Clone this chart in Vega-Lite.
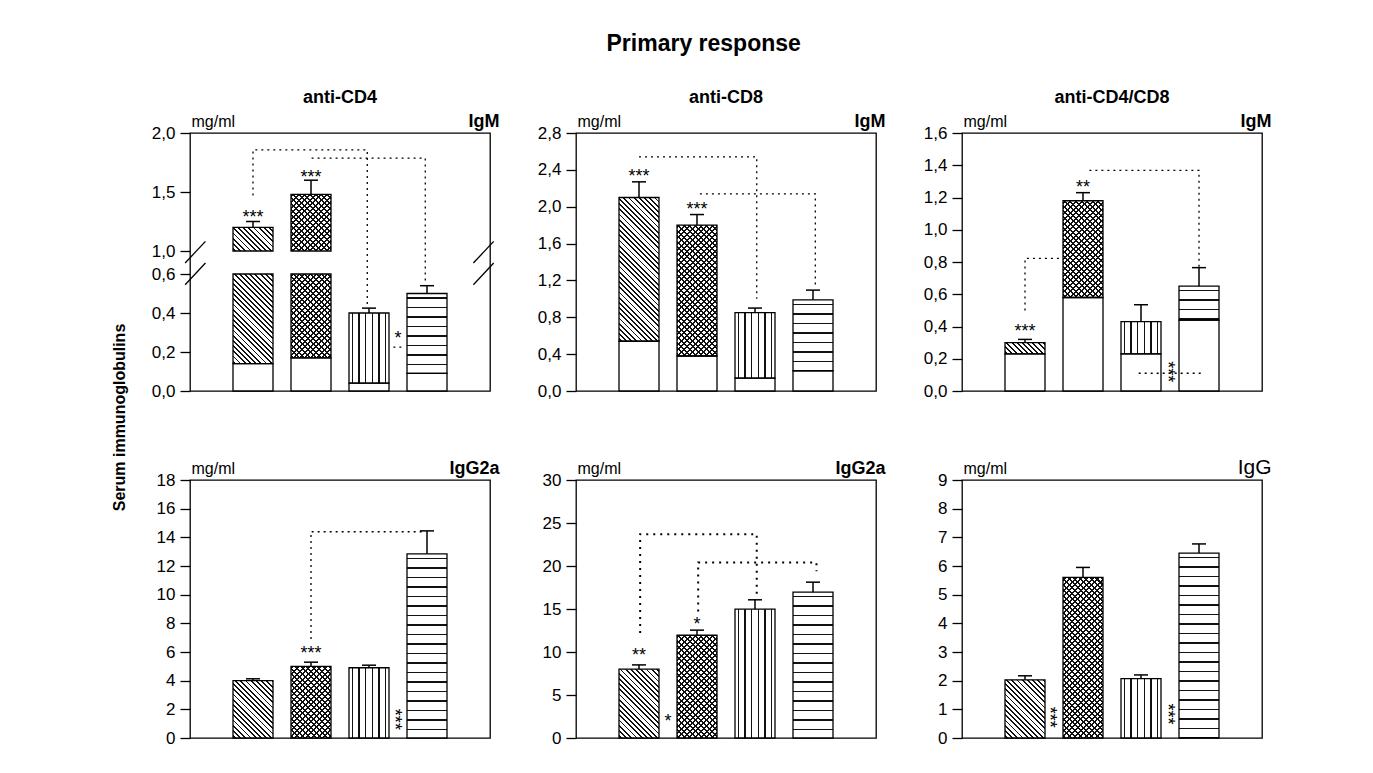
{
"$schema":"https://vega.github.io/schema/vega-lite/v6.json",
"padding":{"left":111,"top":33,"right":5,"bottom":5},
"title":{"text":"Primary response","fontSize":23,"fontWeight":"bold","anchor":"middle","offset":32,"dx":12,"color":"black"},
"params":[
{"name":"sT","value":[
{"offset":0,"color":"transparent"},
{"offset":0.008,"color":"transparent"},{"offset":0.008,"color":"#111"},{"offset":0.018,"color":"#111"},{"offset":0.018,"color":"transparent"},
{"offset":0.0358,"color":"transparent"},{"offset":0.0358,"color":"#111"},{"offset":0.0458,"color":"#111"},{"offset":0.0458,"color":"transparent"},
{"offset":0.0636,"color":"transparent"},{"offset":0.0636,"color":"#111"},{"offset":0.0736,"color":"#111"},{"offset":0.0736,"color":"transparent"},
{"offset":0.0913,"color":"transparent"},{"offset":0.0913,"color":"#111"},{"offset":0.1013,"color":"#111"},{"offset":0.1013,"color":"transparent"},
{"offset":0.1191,"color":"transparent"},{"offset":0.1191,"color":"#111"},{"offset":0.1291,"color":"#111"},{"offset":0.1291,"color":"transparent"},
{"offset":0.1469,"color":"transparent"},{"offset":0.1469,"color":"#111"},{"offset":0.1569,"color":"#111"},{"offset":0.1569,"color":"transparent"},
{"offset":0.1747,"color":"transparent"},{"offset":0.1747,"color":"#111"},{"offset":0.1847,"color":"#111"},{"offset":0.1847,"color":"transparent"},
{"offset":0.2024,"color":"transparent"},{"offset":0.2024,"color":"#111"},{"offset":0.2124,"color":"#111"},{"offset":0.2124,"color":"transparent"},
{"offset":0.2302,"color":"transparent"},{"offset":0.2302,"color":"#111"},{"offset":0.2402,"color":"#111"},{"offset":0.2402,"color":"transparent"},
{"offset":0.258,"color":"transparent"},{"offset":0.258,"color":"#111"},{"offset":0.268,"color":"#111"},{"offset":0.268,"color":"transparent"},
{"offset":0.2858,"color":"transparent"},{"offset":0.2858,"color":"#111"},{"offset":0.2958,"color":"#111"},{"offset":0.2958,"color":"transparent"},
{"offset":0.3136,"color":"transparent"},{"offset":0.3136,"color":"#111"},{"offset":0.3236,"color":"#111"},{"offset":0.3236,"color":"transparent"},
{"offset":0.3413,"color":"transparent"},{"offset":0.3413,"color":"#111"},{"offset":0.3513,"color":"#111"},{"offset":0.3513,"color":"transparent"},
{"offset":0.3691,"color":"transparent"},{"offset":0.3691,"color":"#111"},{"offset":0.3791,"color":"#111"},{"offset":0.3791,"color":"transparent"},
{"offset":0.3969,"color":"transparent"},{"offset":0.3969,"color":"#111"},{"offset":0.4069,"color":"#111"},{"offset":0.4069,"color":"transparent"},
{"offset":0.4247,"color":"transparent"},{"offset":0.4247,"color":"#111"},{"offset":0.4347,"color":"#111"},{"offset":0.4347,"color":"transparent"},
{"offset":0.4524,"color":"transparent"},{"offset":0.4524,"color":"#111"},{"offset":0.4624,"color":"#111"},{"offset":0.4624,"color":"transparent"},
{"offset":0.4802,"color":"transparent"},{"offset":0.4802,"color":"#111"},{"offset":0.4902,"color":"#111"},{"offset":0.4902,"color":"transparent"},
{"offset":0.508,"color":"transparent"},{"offset":0.508,"color":"#111"},{"offset":0.518,"color":"#111"},{"offset":0.518,"color":"transparent"},
{"offset":0.5358,"color":"transparent"},{"offset":0.5358,"color":"#111"},{"offset":0.5458,"color":"#111"},{"offset":0.5458,"color":"transparent"},
{"offset":0.5636,"color":"transparent"},{"offset":0.5636,"color":"#111"},{"offset":0.5736,"color":"#111"},{"offset":0.5736,"color":"transparent"},
{"offset":0.5913,"color":"transparent"},{"offset":0.5913,"color":"#111"},{"offset":0.6013,"color":"#111"},{"offset":0.6013,"color":"transparent"},
{"offset":0.6191,"color":"transparent"},{"offset":0.6191,"color":"#111"},{"offset":0.6291,"color":"#111"},{"offset":0.6291,"color":"transparent"},
{"offset":0.6469,"color":"transparent"},{"offset":0.6469,"color":"#111"},{"offset":0.6569,"color":"#111"},{"offset":0.6569,"color":"transparent"},
{"offset":0.6747,"color":"transparent"},{"offset":0.6747,"color":"#111"},{"offset":0.6847,"color":"#111"},{"offset":0.6847,"color":"transparent"},
{"offset":0.7024,"color":"transparent"},{"offset":0.7024,"color":"#111"},{"offset":0.7124,"color":"#111"},{"offset":0.7124,"color":"transparent"},
{"offset":0.7302,"color":"transparent"},{"offset":0.7302,"color":"#111"},{"offset":0.7402,"color":"#111"},{"offset":0.7402,"color":"transparent"},
{"offset":0.758,"color":"transparent"},{"offset":0.758,"color":"#111"},{"offset":0.768,"color":"#111"},{"offset":0.768,"color":"transparent"},
{"offset":0.7858,"color":"transparent"},{"offset":0.7858,"color":"#111"},{"offset":0.7958,"color":"#111"},{"offset":0.7958,"color":"transparent"},
{"offset":0.8136,"color":"transparent"},{"offset":0.8136,"color":"#111"},{"offset":0.8236,"color":"#111"},{"offset":0.8236,"color":"transparent"},
{"offset":0.8413,"color":"transparent"},{"offset":0.8413,"color":"#111"},{"offset":0.8513,"color":"#111"},{"offset":0.8513,"color":"transparent"},
{"offset":0.8691,"color":"transparent"},{"offset":0.8691,"color":"#111"},{"offset":0.8791,"color":"#111"},{"offset":0.8791,"color":"transparent"},
{"offset":0.8969,"color":"transparent"},{"offset":0.8969,"color":"#111"},{"offset":0.9069,"color":"#111"},{"offset":0.9069,"color":"transparent"},
{"offset":0.9247,"color":"transparent"},{"offset":0.9247,"color":"#111"},{"offset":0.9347,"color":"#111"},{"offset":0.9347,"color":"transparent"},
{"offset":0.9524,"color":"transparent"},{"offset":0.9524,"color":"#111"},{"offset":0.9624,"color":"#111"},{"offset":0.9624,"color":"transparent"},
{"offset":0.9802,"color":"transparent"},{"offset":0.9802,"color":"#111"},{"offset":0.9902,"color":"#111"},{"offset":0.9902,"color":"transparent"},
{"offset":1,"color":"transparent"}]},
{"name":"sH","value":[
{"offset":0,"color":"transparent"},
{"offset":0.02,"color":"transparent"},{"offset":0.02,"color":"#111"},{"offset":0.0275,"color":"#111"},{"offset":0.0275,"color":"transparent"},
{"offset":0.07,"color":"transparent"},{"offset":0.07,"color":"#111"},{"offset":0.0775,"color":"#111"},{"offset":0.0775,"color":"transparent"},
{"offset":0.12,"color":"transparent"},{"offset":0.12,"color":"#111"},{"offset":0.1275,"color":"#111"},{"offset":0.1275,"color":"transparent"},
{"offset":0.17,"color":"transparent"},{"offset":0.17,"color":"#111"},{"offset":0.1775,"color":"#111"},{"offset":0.1775,"color":"transparent"},
{"offset":0.22,"color":"transparent"},{"offset":0.22,"color":"#111"},{"offset":0.2275,"color":"#111"},{"offset":0.2275,"color":"transparent"},
{"offset":0.27,"color":"transparent"},{"offset":0.27,"color":"#111"},{"offset":0.2775,"color":"#111"},{"offset":0.2775,"color":"transparent"},
{"offset":0.32,"color":"transparent"},{"offset":0.32,"color":"#111"},{"offset":0.3275,"color":"#111"},{"offset":0.3275,"color":"transparent"},
{"offset":0.37,"color":"transparent"},{"offset":0.37,"color":"#111"},{"offset":0.3775,"color":"#111"},{"offset":0.3775,"color":"transparent"},
{"offset":0.42,"color":"transparent"},{"offset":0.42,"color":"#111"},{"offset":0.4275,"color":"#111"},{"offset":0.4275,"color":"transparent"},
{"offset":0.47,"color":"transparent"},{"offset":0.47,"color":"#111"},{"offset":0.4775,"color":"#111"},{"offset":0.4775,"color":"transparent"},
{"offset":0.52,"color":"transparent"},{"offset":0.52,"color":"#111"},{"offset":0.5275,"color":"#111"},{"offset":0.5275,"color":"transparent"},
{"offset":0.57,"color":"transparent"},{"offset":0.57,"color":"#111"},{"offset":0.5775,"color":"#111"},{"offset":0.5775,"color":"transparent"},
{"offset":0.62,"color":"transparent"},{"offset":0.62,"color":"#111"},{"offset":0.6275,"color":"#111"},{"offset":0.6275,"color":"transparent"},
{"offset":0.67,"color":"transparent"},{"offset":0.67,"color":"#111"},{"offset":0.6775,"color":"#111"},{"offset":0.6775,"color":"transparent"},
{"offset":0.72,"color":"transparent"},{"offset":0.72,"color":"#111"},{"offset":0.7275,"color":"#111"},{"offset":0.7275,"color":"transparent"},
{"offset":0.77,"color":"transparent"},{"offset":0.77,"color":"#111"},{"offset":0.7775,"color":"#111"},{"offset":0.7775,"color":"transparent"},
{"offset":0.82,"color":"transparent"},{"offset":0.82,"color":"#111"},{"offset":0.8275,"color":"#111"},{"offset":0.8275,"color":"transparent"},
{"offset":0.87,"color":"transparent"},{"offset":0.87,"color":"#111"},{"offset":0.8775,"color":"#111"},{"offset":0.8775,"color":"transparent"},
{"offset":0.92,"color":"transparent"},{"offset":0.92,"color":"#111"},{"offset":0.9275,"color":"#111"},{"offset":0.9275,"color":"transparent"},
{"offset":0.97,"color":"transparent"},{"offset":0.97,"color":"#111"},{"offset":0.9775,"color":"#111"},{"offset":0.9775,"color":"transparent"},
{"offset":1,"color":"transparent"}]},
{"name":"hV","value":{"gradient":"linear","x1":0,"y1":0,"x2":1,"y2":0,"stops":[
{"offset":0,"color":"transparent"},
{"offset":0.063,"color":"transparent"},{"offset":0.063,"color":"#111"},{"offset":0.103,"color":"#111"},{"offset":0.103,"color":"transparent"},
{"offset":0.23,"color":"transparent"},{"offset":0.23,"color":"#111"},{"offset":0.27,"color":"#111"},{"offset":0.27,"color":"transparent"},
{"offset":0.397,"color":"transparent"},{"offset":0.397,"color":"#111"},{"offset":0.437,"color":"#111"},{"offset":0.437,"color":"transparent"},
{"offset":0.563,"color":"transparent"},{"offset":0.563,"color":"#111"},{"offset":0.603,"color":"#111"},{"offset":0.603,"color":"transparent"},
{"offset":0.73,"color":"transparent"},{"offset":0.73,"color":"#111"},{"offset":0.77,"color":"#111"},{"offset":0.77,"color":"transparent"},
{"offset":0.897,"color":"transparent"},{"offset":0.897,"color":"#111"},{"offset":0.937,"color":"#111"},{"offset":0.937,"color":"transparent"},
{"offset":1,"color":"transparent"}]}}
],
"datasets":{
"p1_bars":[
{"group":1,"part":"base","y":0,"y2":0.14},{"group":1,"part":"rise","y":0.14,"y2":0.6},{"group":1,"part":"rise","y":1.0,"y2":1.2},
{"group":2,"part":"base","y":0,"y2":0.17},{"group":2,"part":"rise","y":0.17,"y2":0.6},{"group":2,"part":"rise","y":1.0,"y2":1.48},
{"group":3,"part":"base","y":0,"y2":0.04},{"group":3,"part":"rise","y":0.04,"y2":0.40},
{"group":4,"part":"base","y":0,"y2":0.09},{"group":4,"part":"rise","y":0.09,"y2":0.50}],
"p1_err":[{"group":1,"y":1.25,"y2":1.2},{"group":2,"y":1.6,"y2":1.48},{"group":3,"y":0.425,"y2":0.4},{"group":4,"y":0.54,"y2":0.5}],
"p1_sig":[{"group":1,"y":1.32,"label":"***"},{"group":2,"y":1.66,"label":"***"},{"group":3.5,"y":0.29,"label":"*"}],
"p1_links":[
{"id":"a","seq":1,"group":1,"y":1.47},{"id":"a","seq":2,"group":1,"y":1.857},{"id":"a","seq":3,"group":2.97,"y":1.857},{"id":"a","seq":4,"group":2.97,"y":0.43},
{"id":"b","seq":1,"group":2.01,"y":1.787},{"id":"b","seq":2,"group":3.97,"y":1.787},{"id":"b","seq":3,"group":3.97,"y":0.554},
{"id":"c","seq":1,"group":3.42,"y":0.225},{"id":"c","seq":2,"group":3.62,"y":0.225}],
"p1_break":[{"group":0,"y":0.62,"y2":0.98},{"group":5,"y":0.62,"y2":0.98}],
"p1_slash":[
{"id":"l1","seq":1,"group":-0.17,"y":0.545},{"id":"l1","seq":2,"group":0.18,"y":0.791},
{"id":"l2","seq":1,"group":-0.17,"y":0.791},{"id":"l2","seq":2,"group":0.18,"y":1.082},
{"id":"r1","seq":1,"group":4.8,"y":0.545},{"id":"r1","seq":2,"group":5.15,"y":0.791},
{"id":"r2","seq":1,"group":4.8,"y":0.791},{"id":"r2","seq":2,"group":5.15,"y":1.082}],
"p2_bars":[
{"group":1,"part":"base","y":0,"y2":0.54},{"group":1,"part":"rise","y":0.54,"y2":2.1},
{"group":2,"part":"base","y":0,"y2":0.38},{"group":2,"part":"rise","y":0.38,"y2":1.8},
{"group":3,"part":"base","y":0,"y2":0.14},{"group":3,"part":"rise","y":0.14,"y2":0.85},
{"group":4,"part":"base","y":0,"y2":0.22},{"group":4,"part":"rise","y":0.22,"y2":0.99}],
"p2_err":[{"group":1,"y":2.27,"y2":2.1},{"group":2,"y":1.915,"y2":1.8},{"group":3,"y":0.9,"y2":0.85},{"group":4,"y":1.095,"y2":0.99}],
"p2_sig":[{"group":1,"y":2.38,"label":"***"},{"group":2,"y":2.02,"label":"***"}],
"p2_links":[
{"id":"a","seq":1,"group":1,"y":2.54},{"id":"a","seq":2,"group":3.03,"y":2.54},{"id":"a","seq":3,"group":3.03,"y":1.0},
{"id":"b","seq":1,"group":2.05,"y":2.14},{"id":"b","seq":2,"group":4.04,"y":2.14},{"id":"b","seq":3,"group":4.04,"y":1.12}],
"p3_bars":[
{"group":1,"part":"base","y":0,"y2":0.23},{"group":1,"part":"rise","y":0.23,"y2":0.30},
{"group":2,"part":"base","y":0,"y2":0.58},{"group":2,"part":"rise","y":0.58,"y2":1.18},
{"group":3,"part":"base","y":0,"y2":0.23},{"group":3,"part":"rise","y":0.23,"y2":0.43},
{"group":4,"part":"base","y":0,"y2":0.44},{"group":4,"part":"rise","y":0.44,"y2":0.65}],
"p3_err":[{"group":1,"y":0.32,"y2":0.3},{"group":2,"y":1.23,"y2":1.18},{"group":3,"y":0.535,"y2":0.43},{"group":4,"y":0.765,"y2":0.65}],
"p3_sig":[{"group":1,"y":0.40,"label":"***"},{"group":2,"y":1.29,"label":"**"}],
"p3_sig_side":[{"group":3.53,"y":0.12,"label":"***"}],
"p3_links":[
{"id":"a","seq":1,"group":1,"y":0.5},{"id":"a","seq":2,"group":1,"y":0.823},{"id":"a","seq":3,"group":1.65,"y":0.823},
{"id":"b","seq":1,"group":2.11,"y":1.368},{"id":"b","seq":2,"group":4.0,"y":1.368},{"id":"b","seq":3,"group":4.0,"y":0.77},
{"id":"c","seq":1,"group":2.96,"y":0.11},{"id":"c","seq":2,"group":4.08,"y":0.11}],
"p4_bars":[{"group":1,"part":"rise","y":0,"y2":4.0},{"group":2,"part":"rise","y":0,"y2":5.0},{"group":3,"part":"rise","y":0,"y2":4.9},{"group":4,"part":"rise","y":0,"y2":12.85}],
"p4_err":[{"group":1,"y":4.13,"y2":4.0},{"group":2,"y":5.29,"y2":5.0},{"group":3,"y":5.08,"y2":4.9},{"group":4,"y":14.45,"y2":12.85}],
"p4_sig":[{"group":2,"y":6.2,"label":"***"}],
"p4_sig_side":[{"group":3.51,"y":1.3,"label":"***"}],
"p4_links":[{"id":"a","seq":1,"group":2,"y":6.9},{"id":"a","seq":2,"group":2,"y":14.39},{"id":"a","seq":3,"group":3.97,"y":14.39}],
"p5_bars":[{"group":1,"part":"rise","y":0,"y2":8.0},{"group":2,"part":"rise","y":0,"y2":11.95},{"group":3,"part":"rise","y":0,"y2":14.98},{"group":4,"part":"rise","y":0,"y2":16.96}],
"p5_err":[{"group":1,"y":8.5,"y2":8.0},{"group":2,"y":12.54,"y2":11.95},{"group":3,"y":16.07,"y2":14.98},{"group":4,"y":18.12,"y2":16.96}],
"p5_sig":[{"group":1,"y":10.1,"label":"**"},{"group":2,"y":13.7,"label":"*"},{"group":1.5,"y":2.5,"label":"*"}],
"p5_links":[
{"id":"a","seq":1,"group":1.02,"y":12.2},{"id":"a","seq":2,"group":1.02,"y":23.7},{"id":"a","seq":3,"group":3.03,"y":23.7},{"id":"a","seq":4,"group":3.03,"y":16.6},
{"id":"b","seq":1,"group":2.02,"y":14.7},{"id":"b","seq":2,"group":2.02,"y":20.4},{"id":"b","seq":3,"group":4.06,"y":20.4},{"id":"b","seq":4,"group":4.06,"y":19.4}],
"p6_bars":[{"group":1,"part":"rise","y":0,"y2":2.03},{"group":2,"part":"rise","y":0,"y2":5.6},{"group":3,"part":"rise","y":0,"y2":2.07},{"group":4,"part":"rise","y":0,"y2":6.45}],
"p6_err":[{"group":1,"y":2.17,"y2":2.03},{"group":2,"y":5.95,"y2":5.6},{"group":3,"y":2.2,"y2":2.07},{"group":4,"y":6.77,"y2":6.45}],
"p6_sig_side":[{"group":1.5,"y":0.72,"label":"***"},{"group":3.53,"y":0.84,"label":"***"}]
},
"vconcat":[{
"title":{"text":"Serum immunoglobulins","orient":"left","fontSize":16,"fontWeight":"bold","anchor":"middle","offset":23,"color":"black"},
"columns":3,
"spacing":{"row":89,"column":86},
"bounds":"flush",
"concat":[
{"width":300,"height":258,"title":{"text":"anti-CD4"},
"encoding":{
"x":{"field":"group","type":"quantitative","scale":{"domain":[0,5]},"axis":{"orient":"top","title":"IgM"}},
"y":{"field":"y","type":"quantitative","scale":{"domain":[0,0.6,1,2],"range":[258,141,118,0]},"axis":{"title":"mg/ml","values":[0,0.2,0.4,0.6,1,1.5,2],"labelExpr":"replace(format(datum.value,'.1f'),'.',',')"}}},
"layer":[
{"data":{"name":"p1_bars"},"mark":{"type":"bar","width":40,"fill":"white"},"encoding":{"y2":{"field":"y2"}}},
{"data":{"name":"p1_bars"},"transform":[{"filter":"datum.part==='rise'&&datum.group===1"}],"mark":{"type":"bar","width":40,"fill":{"expr":"{gradient:'linear',x1:0,y1:1,x2:40*187.2/(1600+pow((datum.y2-datum.y)*(datum.y<0.9?195:118),2)),y2:1-(datum.y2-datum.y)*(datum.y<0.9?195:118)*187.2/(1600+pow((datum.y2-datum.y)*(datum.y<0.9?195:118),2)),stops:sT}"}},"encoding":{"y2":{"field":"y2"}}},
{"data":{"name":"p1_bars"},"transform":[{"filter":"datum.part==='rise'&&datum.group===2"}],"mark":{"type":"bar","width":40,"fill":{"expr":"{gradient:'linear',x1:0,y1:1,x2:40*201.6/(1600+pow((datum.y2-datum.y)*(datum.y<0.9?195:118),2)),y2:1-(datum.y2-datum.y)*(datum.y<0.9?195:118)*201.6/(1600+pow((datum.y2-datum.y)*(datum.y<0.9?195:118),2)),stops:sT}"}},"encoding":{"y2":{"field":"y2"}}},
{"data":{"name":"p1_bars"},"transform":[{"filter":"datum.part==='rise'&&datum.group===2"}],"mark":{"type":"bar","width":40,"fill":{"expr":"{gradient:'linear',x1:0,y1:0,x2:40*201.6/(1600+pow((datum.y2-datum.y)*(datum.y<0.9?195:118),2)),y2:(datum.y2-datum.y)*(datum.y<0.9?195:118)*201.6/(1600+pow((datum.y2-datum.y)*(datum.y<0.9?195:118),2)),stops:sT}"}},"encoding":{"y2":{"field":"y2"}}},
{"data":{"name":"p1_bars"},"transform":[{"filter":"datum.part==='rise'&&datum.group===3"}],"mark":{"type":"bar","width":40,"fill":{"expr":"hV"}},"encoding":{"y2":{"field":"y2"}}},
{"data":{"name":"p1_bars"},"transform":[{"filter":"datum.part==='rise'&&datum.group===4"}],"mark":{"type":"bar","width":40,"fill":{"expr":"{gradient:'linear',x1:0,y1:0,x2:0,y2:190/((datum.y2-datum.y)*195),stops:sH}"}},"encoding":{"y2":{"field":"y2"}}},
{"data":{"name":"p1_bars"},"mark":{"type":"bar","width":40,"fill":"white","fillOpacity":0,"stroke":"black","strokeWidth":1.3},"encoding":{"y2":{"field":"y2"}}},
{"data":{"name":"p1_err"},"mark":{"type":"rule","color":"black","strokeWidth":1.5},"encoding":{"y2":{"field":"y2"}}},
{"data":{"name":"p1_err"},"mark":{"type":"point","shape":"M-1,0H1","size":196,"color":"black","strokeWidth":1.5,"opacity":1}},
{"data":{"name":"p1_links"},"mark":{"type":"line","color":"black","strokeWidth":1.3,"strokeDash":[2,4]},"encoding":{"detail":{"field":"id"},"order":{"field":"seq","type":"quantitative"}}},
{"data":{"name":"p1_sig"},"mark":{"type":"text","fontSize":18,"dy":5,"color":"black"},"encoding":{"text":{"field":"label"}}},
{"data":{"name":"p1_break"},"mark":{"type":"rule","color":"white","strokeWidth":5},"encoding":{"y2":{"field":"y2"}}},
{"data":{"name":"p1_slash"},"mark":{"type":"line","color":"black","strokeWidth":1.3},"encoding":{"detail":{"field":"id"},"order":{"field":"seq","type":"quantitative"}}}
]},
{"width":300,"height":258,"title":{"text":"anti-CD8"},
"encoding":{
"x":{"field":"group","type":"quantitative","scale":{"domain":[0,5]},"axis":{"orient":"top","title":"IgM"}},
"y":{"field":"y","type":"quantitative","scale":{"domain":[0,2.8],"nice":false},"axis":{"title":"mg/ml","values":[0,0.4,0.8,1.2,1.6,2.0,2.4,2.8],"labelExpr":"replace(format(datum.value,'.1f'),'.',',')"}}},
"layer":[
{"data":{"name":"p2_bars"},"mark":{"type":"bar","width":40,"fill":"white"},"encoding":{"y2":{"field":"y2"}}},
{"data":{"name":"p2_bars"},"transform":[{"filter":"datum.part==='rise'&&datum.group===1"}],"mark":{"type":"bar","width":40,"fill":{"expr":"{gradient:'linear',x1:0,y1:1,x2:40*187.2/(1600+pow((datum.y2-datum.y)*92.14,2)),y2:1-(datum.y2-datum.y)*92.14*187.2/(1600+pow((datum.y2-datum.y)*92.14,2)),stops:sT}"}},"encoding":{"y2":{"field":"y2"}}},
{"data":{"name":"p2_bars"},"transform":[{"filter":"datum.part==='rise'&&datum.group===2"}],"mark":{"type":"bar","width":40,"fill":{"expr":"{gradient:'linear',x1:0,y1:1,x2:40*201.6/(1600+pow((datum.y2-datum.y)*92.14,2)),y2:1-(datum.y2-datum.y)*92.14*201.6/(1600+pow((datum.y2-datum.y)*92.14,2)),stops:sT}"}},"encoding":{"y2":{"field":"y2"}}},
{"data":{"name":"p2_bars"},"transform":[{"filter":"datum.part==='rise'&&datum.group===2"}],"mark":{"type":"bar","width":40,"fill":{"expr":"{gradient:'linear',x1:0,y1:0,x2:40*201.6/(1600+pow((datum.y2-datum.y)*92.14,2)),y2:(datum.y2-datum.y)*92.14*201.6/(1600+pow((datum.y2-datum.y)*92.14,2)),stops:sT}"}},"encoding":{"y2":{"field":"y2"}}},
{"data":{"name":"p2_bars"},"transform":[{"filter":"datum.part==='rise'&&datum.group===3"}],"mark":{"type":"bar","width":40,"fill":{"expr":"hV"}},"encoding":{"y2":{"field":"y2"}}},
{"data":{"name":"p2_bars"},"transform":[{"filter":"datum.part==='rise'&&datum.group===4"}],"mark":{"type":"bar","width":40,"fill":{"expr":"{gradient:'linear',x1:0,y1:0,x2:0,y2:190/((datum.y2-datum.y)*92.14),stops:sH}"}},"encoding":{"y2":{"field":"y2"}}},
{"data":{"name":"p2_bars"},"mark":{"type":"bar","width":40,"fill":"white","fillOpacity":0,"stroke":"black","strokeWidth":1.3},"encoding":{"y2":{"field":"y2"}}},
{"data":{"name":"p2_err"},"mark":{"type":"rule","color":"black","strokeWidth":1.5},"encoding":{"y2":{"field":"y2"}}},
{"data":{"name":"p2_err"},"mark":{"type":"point","shape":"M-1,0H1","size":196,"color":"black","strokeWidth":1.5,"opacity":1}},
{"data":{"name":"p2_links"},"mark":{"type":"line","color":"black","strokeWidth":1.3,"strokeDash":[2,4]},"encoding":{"detail":{"field":"id"},"order":{"field":"seq","type":"quantitative"}}},
{"data":{"name":"p2_sig"},"mark":{"type":"text","fontSize":18,"dy":5,"color":"black"},"encoding":{"text":{"field":"label"}}}
]},
{"width":300,"height":258,"title":{"text":"anti-CD4/CD8"},
"encoding":{
"x":{"field":"group","type":"quantitative","scale":{"domain":[0,5]},"axis":{"orient":"top","title":"IgM"}},
"y":{"field":"y","type":"quantitative","scale":{"domain":[0,1.6],"nice":false},"axis":{"title":"mg/ml","values":[0,0.2,0.4,0.6,0.8,1.0,1.2,1.4,1.6],"labelExpr":"replace(format(datum.value,'.1f'),'.',',')"}}},
"layer":[
{"data":{"name":"p3_bars"},"mark":{"type":"bar","width":40,"fill":"white"},"encoding":{"y2":{"field":"y2"}}},
{"data":{"name":"p3_bars"},"transform":[{"filter":"datum.part==='rise'&&datum.group===1"}],"mark":{"type":"bar","width":40,"fill":{"expr":"{gradient:'linear',x1:0,y1:1,x2:40*187.2/(1600+pow((datum.y2-datum.y)*161.25,2)),y2:1-(datum.y2-datum.y)*161.25*187.2/(1600+pow((datum.y2-datum.y)*161.25,2)),stops:sT}"}},"encoding":{"y2":{"field":"y2"}}},
{"data":{"name":"p3_bars"},"transform":[{"filter":"datum.part==='rise'&&datum.group===2"}],"mark":{"type":"bar","width":40,"fill":{"expr":"{gradient:'linear',x1:0,y1:1,x2:40*201.6/(1600+pow((datum.y2-datum.y)*161.25,2)),y2:1-(datum.y2-datum.y)*161.25*201.6/(1600+pow((datum.y2-datum.y)*161.25,2)),stops:sT}"}},"encoding":{"y2":{"field":"y2"}}},
{"data":{"name":"p3_bars"},"transform":[{"filter":"datum.part==='rise'&&datum.group===2"}],"mark":{"type":"bar","width":40,"fill":{"expr":"{gradient:'linear',x1:0,y1:0,x2:40*201.6/(1600+pow((datum.y2-datum.y)*161.25,2)),y2:(datum.y2-datum.y)*161.25*201.6/(1600+pow((datum.y2-datum.y)*161.25,2)),stops:sT}"}},"encoding":{"y2":{"field":"y2"}}},
{"data":{"name":"p3_bars"},"transform":[{"filter":"datum.part==='rise'&&datum.group===3"}],"mark":{"type":"bar","width":40,"fill":{"expr":"hV"}},"encoding":{"y2":{"field":"y2"}}},
{"data":{"name":"p3_bars"},"transform":[{"filter":"datum.part==='rise'&&datum.group===4"}],"mark":{"type":"bar","width":40,"fill":{"expr":"{gradient:'linear',x1:0,y1:0,x2:0,y2:190/((datum.y2-datum.y)*161.25),stops:sH}"}},"encoding":{"y2":{"field":"y2"}}},
{"data":{"name":"p3_bars"},"mark":{"type":"bar","width":40,"fill":"white","fillOpacity":0,"stroke":"black","strokeWidth":1.3},"encoding":{"y2":{"field":"y2"}}},
{"data":{"name":"p3_err"},"mark":{"type":"rule","color":"black","strokeWidth":1.5},"encoding":{"y2":{"field":"y2"}}},
{"data":{"name":"p3_err"},"mark":{"type":"point","shape":"M-1,0H1","size":196,"color":"black","strokeWidth":1.5,"opacity":1}},
{"data":{"name":"p3_links"},"mark":{"type":"line","color":"black","strokeWidth":1.3,"strokeDash":[2,4]},"encoding":{"detail":{"field":"id"},"order":{"field":"seq","type":"quantitative"}}},
{"data":{"name":"p3_sig"},"mark":{"type":"text","fontSize":18,"dy":5,"color":"black"},"encoding":{"text":{"field":"label"}}},
{"data":{"name":"p3_sig_side"},"mark":{"type":"text","fontSize":18,"dy":5,"angle":90,"color":"black"},"encoding":{"text":{"field":"label"}}}
]},
{"width":300,"height":258,
"encoding":{
"x":{"field":"group","type":"quantitative","scale":{"domain":[0,5]},"axis":{"orient":"top","title":"IgG2a"}},
"y":{"field":"y","type":"quantitative","scale":{"domain":[0,18],"nice":false},"axis":{"title":"mg/ml","values":[0,2,4,6,8,10,12,14,16,18]}}},
"layer":[
{"data":{"name":"p4_bars"},"mark":{"type":"bar","width":40,"fill":"white"},"encoding":{"y2":{"field":"y2"}}},
{"data":{"name":"p4_bars"},"transform":[{"filter":"datum.group===1"}],"mark":{"type":"bar","width":40,"fill":{"expr":"{gradient:'linear',x1:0,y1:1,x2:40*187.2/(1600+pow((datum.y2-datum.y)*14.33,2)),y2:1-(datum.y2-datum.y)*14.33*187.2/(1600+pow((datum.y2-datum.y)*14.33,2)),stops:sT}"}},"encoding":{"y2":{"field":"y2"}}},
{"data":{"name":"p4_bars"},"transform":[{"filter":"datum.group===2"}],"mark":{"type":"bar","width":40,"fill":{"expr":"{gradient:'linear',x1:0,y1:1,x2:40*201.6/(1600+pow((datum.y2-datum.y)*14.33,2)),y2:1-(datum.y2-datum.y)*14.33*201.6/(1600+pow((datum.y2-datum.y)*14.33,2)),stops:sT}"}},"encoding":{"y2":{"field":"y2"}}},
{"data":{"name":"p4_bars"},"transform":[{"filter":"datum.group===2"}],"mark":{"type":"bar","width":40,"fill":{"expr":"{gradient:'linear',x1:0,y1:0,x2:40*201.6/(1600+pow((datum.y2-datum.y)*14.33,2)),y2:(datum.y2-datum.y)*14.33*201.6/(1600+pow((datum.y2-datum.y)*14.33,2)),stops:sT}"}},"encoding":{"y2":{"field":"y2"}}},
{"data":{"name":"p4_bars"},"transform":[{"filter":"datum.group===3"}],"mark":{"type":"bar","width":40,"fill":{"expr":"hV"}},"encoding":{"y2":{"field":"y2"}}},
{"data":{"name":"p4_bars"},"transform":[{"filter":"datum.group===4"}],"mark":{"type":"bar","width":40,"fill":{"expr":"{gradient:'linear',x1:0,y1:0,x2:0,y2:190/((datum.y2-datum.y)*14.33),stops:sH}"}},"encoding":{"y2":{"field":"y2"}}},
{"data":{"name":"p4_bars"},"mark":{"type":"bar","width":40,"fill":"white","fillOpacity":0,"stroke":"black","strokeWidth":1.3},"encoding":{"y2":{"field":"y2"}}},
{"data":{"name":"p4_err"},"mark":{"type":"rule","color":"black","strokeWidth":1.5},"encoding":{"y2":{"field":"y2"}}},
{"data":{"name":"p4_err"},"mark":{"type":"point","shape":"M-1,0H1","size":196,"color":"black","strokeWidth":1.5,"opacity":1}},
{"data":{"name":"p4_links"},"mark":{"type":"line","color":"black","strokeWidth":1.3,"strokeDash":[2,4]},"encoding":{"detail":{"field":"id"},"order":{"field":"seq","type":"quantitative"}}},
{"data":{"name":"p4_sig"},"mark":{"type":"text","fontSize":18,"dy":5,"color":"black"},"encoding":{"text":{"field":"label"}}},
{"data":{"name":"p4_sig_side"},"mark":{"type":"text","fontSize":18,"dy":5,"angle":90,"color":"black"},"encoding":{"text":{"field":"label"}}}
]},
{"width":300,"height":258,
"encoding":{
"x":{"field":"group","type":"quantitative","scale":{"domain":[0,5]},"axis":{"orient":"top","title":"IgG2a"}},
"y":{"field":"y","type":"quantitative","scale":{"domain":[0,30],"nice":false},"axis":{"title":"mg/ml","values":[0,5,10,15,20,25,30]}}},
"layer":[
{"data":{"name":"p5_bars"},"mark":{"type":"bar","width":40,"fill":"white"},"encoding":{"y2":{"field":"y2"}}},
{"data":{"name":"p5_bars"},"transform":[{"filter":"datum.group===1"}],"mark":{"type":"bar","width":40,"fill":{"expr":"{gradient:'linear',x1:0,y1:1,x2:40*187.2/(1600+pow((datum.y2-datum.y)*8.6,2)),y2:1-(datum.y2-datum.y)*8.6*187.2/(1600+pow((datum.y2-datum.y)*8.6,2)),stops:sT}"}},"encoding":{"y2":{"field":"y2"}}},
{"data":{"name":"p5_bars"},"transform":[{"filter":"datum.group===2"}],"mark":{"type":"bar","width":40,"fill":{"expr":"{gradient:'linear',x1:0,y1:1,x2:40*201.6/(1600+pow((datum.y2-datum.y)*8.6,2)),y2:1-(datum.y2-datum.y)*8.6*201.6/(1600+pow((datum.y2-datum.y)*8.6,2)),stops:sT}"}},"encoding":{"y2":{"field":"y2"}}},
{"data":{"name":"p5_bars"},"transform":[{"filter":"datum.group===2"}],"mark":{"type":"bar","width":40,"fill":{"expr":"{gradient:'linear',x1:0,y1:0,x2:40*201.6/(1600+pow((datum.y2-datum.y)*8.6,2)),y2:(datum.y2-datum.y)*8.6*201.6/(1600+pow((datum.y2-datum.y)*8.6,2)),stops:sT}"}},"encoding":{"y2":{"field":"y2"}}},
{"data":{"name":"p5_bars"},"transform":[{"filter":"datum.group===3"}],"mark":{"type":"bar","width":40,"fill":{"expr":"hV"}},"encoding":{"y2":{"field":"y2"}}},
{"data":{"name":"p5_bars"},"transform":[{"filter":"datum.group===4"}],"mark":{"type":"bar","width":40,"fill":{"expr":"{gradient:'linear',x1:0,y1:0,x2:0,y2:190/((datum.y2-datum.y)*8.6),stops:sH}"}},"encoding":{"y2":{"field":"y2"}}},
{"data":{"name":"p5_bars"},"mark":{"type":"bar","width":40,"fill":"white","fillOpacity":0,"stroke":"black","strokeWidth":1.3},"encoding":{"y2":{"field":"y2"}}},
{"data":{"name":"p5_err"},"mark":{"type":"rule","color":"black","strokeWidth":1.5},"encoding":{"y2":{"field":"y2"}}},
{"data":{"name":"p5_err"},"mark":{"type":"point","shape":"M-1,0H1","size":196,"color":"black","strokeWidth":1.5,"opacity":1}},
{"data":{"name":"p5_links"},"mark":{"type":"line","color":"black","strokeWidth":2,"strokeDash":[2,5]},"encoding":{"detail":{"field":"id"},"order":{"field":"seq","type":"quantitative"}}},
{"data":{"name":"p5_sig"},"mark":{"type":"text","fontSize":18,"dy":5,"color":"black"},"encoding":{"text":{"field":"label"}}}
]},
{"width":300,"height":258,
"encoding":{
"x":{"field":"group","type":"quantitative","scale":{"domain":[0,5]},"axis":{"orient":"top","title":"IgG","titleFontWeight":"normal","titleFontSize":21}},
"y":{"field":"y","type":"quantitative","scale":{"domain":[0,9],"nice":false},"axis":{"title":"mg/ml","values":[0,1,2,3,4,5,6,7,8,9]}}},
"layer":[
{"data":{"name":"p6_bars"},"mark":{"type":"bar","width":40,"fill":"white"},"encoding":{"y2":{"field":"y2"}}},
{"data":{"name":"p6_bars"},"transform":[{"filter":"datum.group===1"}],"mark":{"type":"bar","width":40,"fill":{"expr":"{gradient:'linear',x1:0,y1:1,x2:40*187.2/(1600+pow((datum.y2-datum.y)*28.67,2)),y2:1-(datum.y2-datum.y)*28.67*187.2/(1600+pow((datum.y2-datum.y)*28.67,2)),stops:sT}"}},"encoding":{"y2":{"field":"y2"}}},
{"data":{"name":"p6_bars"},"transform":[{"filter":"datum.group===2"}],"mark":{"type":"bar","width":40,"fill":{"expr":"{gradient:'linear',x1:0,y1:1,x2:40*201.6/(1600+pow((datum.y2-datum.y)*28.67,2)),y2:1-(datum.y2-datum.y)*28.67*201.6/(1600+pow((datum.y2-datum.y)*28.67,2)),stops:sT}"}},"encoding":{"y2":{"field":"y2"}}},
{"data":{"name":"p6_bars"},"transform":[{"filter":"datum.group===2"}],"mark":{"type":"bar","width":40,"fill":{"expr":"{gradient:'linear',x1:0,y1:0,x2:40*201.6/(1600+pow((datum.y2-datum.y)*28.67,2)),y2:(datum.y2-datum.y)*28.67*201.6/(1600+pow((datum.y2-datum.y)*28.67,2)),stops:sT}"}},"encoding":{"y2":{"field":"y2"}}},
{"data":{"name":"p6_bars"},"transform":[{"filter":"datum.group===3"}],"mark":{"type":"bar","width":40,"fill":{"expr":"hV"}},"encoding":{"y2":{"field":"y2"}}},
{"data":{"name":"p6_bars"},"transform":[{"filter":"datum.group===4"}],"mark":{"type":"bar","width":40,"fill":{"expr":"{gradient:'linear',x1:0,y1:0,x2:0,y2:190/((datum.y2-datum.y)*28.67),stops:sH}"}},"encoding":{"y2":{"field":"y2"}}},
{"data":{"name":"p6_bars"},"mark":{"type":"bar","width":40,"fill":"white","fillOpacity":0,"stroke":"black","strokeWidth":1.3},"encoding":{"y2":{"field":"y2"}}},
{"data":{"name":"p6_err"},"mark":{"type":"rule","color":"black","strokeWidth":1.5},"encoding":{"y2":{"field":"y2"}}},
{"data":{"name":"p6_err"},"mark":{"type":"point","shape":"M-1,0H1","size":196,"color":"black","strokeWidth":1.5,"opacity":1}},
{"data":{"name":"p6_sig_side"},"mark":{"type":"text","fontSize":18,"dy":5,"angle":90,"color":"black"},"encoding":{"text":{"field":"label"}}}
]}
]
}],
"config":{
"font":"Liberation Sans",
"background":"white",
"view":{"stroke":"black","strokeWidth":1.3},
"axis":{"grid":false,"domain":false,"labelColor":"black","titleColor":"black","tickColor":"black"},
"axisLeft":{"labelFontSize":17,"tickSize":10,"tickWidth":1.3,"labelPadding":5,"titleAngle":0,"titleAlign":"left","titleBaseline":"alphabetic","titleX":1,"titleY":-7,"titleFontSize":16,"titleFontWeight":"normal"},
"axisTop":{"ticks":false,"labels":false,"titleAlign":"right","titleBaseline":"alphabetic","titleX":309,"titleY":-7,"titleFontSize":18,"titleFontWeight":"bold"},
"title":{"color":"black","fontSize":18,"fontWeight":"bold","offset":5}
}
}
